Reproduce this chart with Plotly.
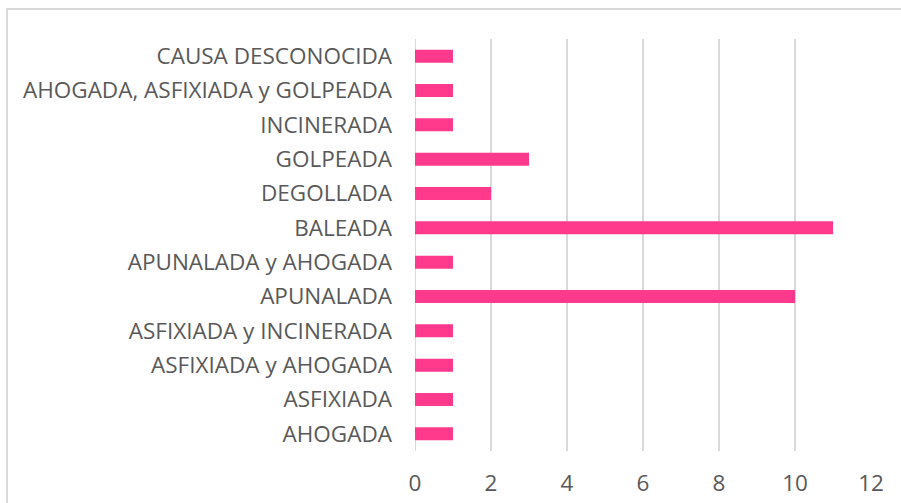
import plotly.graph_objects as go

categories = [
    "AHOGADA",
    "ASFIXIADA",
    "ASFIXIADA y AHOGADA",
    "ASFIXIADA y INCINERADA",
    "APUNALADA",
    "APUNALADA y AHOGADA",
    "BALEADA",
    "DEGOLLADA",
    "GOLPEADA",
    "INCINERADA",
    "AHOGADA, ASFIXIADA y GOLPEADA",
    "CAUSA DESCONOCIDA",
]
values = [1, 1, 1, 1, 10, 1, 11, 2, 3, 1, 1, 1]
x_ticks = [0, 2, 4, 6, 8, 10, 12]

W, H = 901, 503
L, R, T, B = 415, 871, 39, 451

fig = go.Figure(go.Bar(
    x=values, y=categories, orientation="h",
    marker=dict(color="#FF3A8C", line=dict(width=0)),
    width=0.38,
))

font = dict(family="Open Sans, sans-serif", size=22.5, color="#595959")

fig.update_layout(
    width=W, height=H,
    margin=dict(l=L, r=W - R, t=T, b=H - B, pad=0, autoexpand=False),
    paper_bgcolor="white", plot_bgcolor="white",
    showlegend=False,
    font=font,
    bargap=0.62,
    xaxis=dict(range=[0, 12], tickvals=x_ticks, showgrid=True,
               gridcolor="#D9D9D9", gridwidth=2, zeroline=False,
               showline=False, ticks="", ticklabelstandoff=16,
               automargin=False, tickfont=font, fixedrange=True),
    yaxis=dict(categoryorder="array", categoryarray=categories,
               showgrid=False, zeroline=False, showline=False,
               ticks="", ticklabelstandoff=22, tickfont=font,
               automargin=False, fixedrange=True),
    shapes=[
        dict(type="line", xref="x", yref="paper", x0=0, x1=0, y0=0, y1=1,
             line=dict(color="#D9D9D9", width=2), layer="below"),
        dict(type="rect", xref="paper", yref="paper",
             x0=(7 - L) / (R - L), x1=2,
             y0=-2, y1=(B - 9) / (B - T),
             line=dict(color="#D9D9D9", width=2), layer="below"),
    ],
)

fig.write_html(
    "out.html",
    config={"displayModeBar": False},
    post_script="document.body.style.margin='0';document.body.style.overflow='hidden';",
)
